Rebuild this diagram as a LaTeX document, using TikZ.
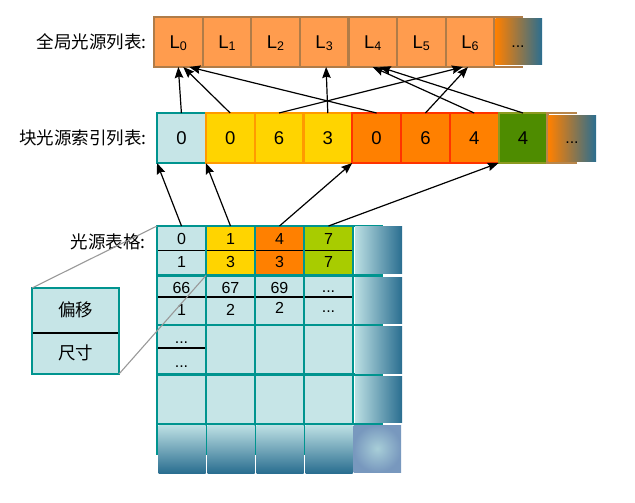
\documentclass[tikz,border=0pt]{standalone}
\usepackage{fontspec}
\setmainfont{Liberation Sans}
\newfontfamily\cjk{Noto Sans CJK SC}
\usetikzlibrary{arrows.meta}

\definecolor{cellcyan}{HTML}{C6E5E7}
\definecolor{gridteal}{HTML}{00948F}
\definecolor{lampyellow}{HTML}{FFD400}
\definecolor{lamporange}{HTML}{FF8000}
\definecolor{lamplime}{HTML}{A8CC00}
\definecolor{listfill}{HTML}{FF9C4E}
\definecolor{listedge}{HTML}{B07C48}
\definecolor{edgeorange}{HTML}{FF9A00}
\definecolor{edgered}{HTML}{FF3300}
\definecolor{leafgreen}{HTML}{4E8C00}
\definecolor{edgeolive}{HTML}{8C9A20}
\definecolor{deepblue}{HTML}{2A6E90}
\definecolor{paleblue}{HTML}{BCDFE3}
\definecolor{frametan}{HTML}{B8864A}
\definecolor{radialin}{HTML}{A8CED8}
\definecolor{radialout}{HTML}{7898BE}

\newcommand{\Lidx}[1]{L\raisebox{-2pt}{\fontsize{12.5}{12.5}\selectfont #1}}

\begin{document}
\begin{tikzpicture}[x=1pt,y=-1pt,
  cell/.style={draw, rectangle, inner sep=0pt, outer sep=0pt, line width=2.2pt,
    font=\fontsize{18.5}{18.5}\selectfont, text height=13.3pt, text depth=0pt},
  listcell/.style={cell, fill=listfill, draw=listedge, minimum width=48.6pt, minimum height=50pt},
  idxcell/.style={cell, minimum width=48.8pt, minimum height=50pt},
  gridcell/.style={cell, fill=cellcyan, draw=gridteal, line width=2.6pt, minimum width=49pt, minimum height=49.5pt},
  celltext/.style={inner sep=0pt, font=\fontsize{16}{16}\selectfont, text height=11.5pt, text depth=0pt},
  cjklabel/.style={inner sep=0pt, anchor=east, font=\cjk\fontsize{17.5}{17.5}\selectfont},
  cjktext/.style={inner sep=0pt, font=\cjk\fontsize{17.5}{17.5}\selectfont},
  link/.style={-{Stealth[length=11pt,width=8.5pt,inset=1.5pt]}, line width=1.2pt},
  zoomline/.style={black!40, line width=1.1pt},
  divider/.style={line width=1.2pt}]
\useasboundingbox (0,0) rectangle (635,503);

% labels
\node[cjklabel] (globallabel) at (147,42) {全局光源列表:};
\node[cjklabel] (blocklabel) at (147,138) {块光源索引列表:};
\node[cjklabel] (tablelabel) at (146,242) {光源表格:};

% global light list
\node[listcell] (L0) at (178.3,42) {\Lidx{0}};
\node[listcell] (L1) at (226.9,42) {\Lidx{1}};
\node[listcell] (L2) at (275.5,42) {\Lidx{2}};
\node[listcell] (L3) at (324.1,42) {\Lidx{3}};
\node[listcell] (L4) at (372.7,42) {\Lidx{4}};
\node[listcell] (L5) at (421.3,42) {\Lidx{5}};
\node[listcell] (L6) at (469.9,42) {\Lidx{6}};
\draw[listedge, line width=2.2pt] (523,17) -- (494.2,17) -- (494.2,67) -- (523,67);
\shade[left color=lamporange, right color=deepblue] (495.3,19) rectangle (542,65);
\node[celltext] (moretop) at (518,42) {...};

% block light index list
\node[idxcell, fill=cellcyan, draw=gridteal] (m0) at (181.4,138) {0};
\node[idxcell, fill=lampyellow, draw=edgeorange] (m1) at (230.2,138) {0};
\node[idxcell, fill=lampyellow, draw=edgeorange] (m2) at (279,138) {6};
\node[idxcell, fill=lampyellow, draw=edgeorange] (m3) at (327.8,138) {3};
\node[idxcell, fill=lamporange, draw=edgered] (m4) at (376.6,138) {0};
\node[idxcell, fill=lamporange, draw=edgered] (m5) at (425.4,138) {6};
\node[idxcell, fill=lamporange, draw=edgered] (m6) at (474.2,138) {4};
\node[idxcell, fill=leafgreen, draw=edgeolive] (m7) at (523,138) {4};
\draw[frametan, line width=2.2pt] (577,113) -- (547.4,113) -- (547.4,163) -- (577,163);
\shade[left color=lamporange, right color=deepblue] (548.5,115) rectangle (596,161);
\node[celltext] (moreidx) at (572,138) {...};

% light table grid
\node[gridcell] (g00) at (181.5,250.75) {};
\node[gridcell, fill=lampyellow] (g10) at (230.5,250.75) {};
\node[gridcell, fill=lamporange] (g20) at (279.5,250.75) {};
\node[gridcell, fill=lamplime] (g30) at (328.5,250.75) {};
\node[gridcell] (g01) at (181.5,300.25) {};
\node[gridcell] (g11) at (230.5,300.25) {};
\node[gridcell] (g21) at (279.5,300.25) {};
\node[gridcell] (g31) at (328.5,300.25) {};
\node[gridcell] (g02) at (181.5,349.75) {};
\node[gridcell] (g12) at (230.5,349.75) {};
\node[gridcell] (g22) at (279.5,349.75) {};
\node[gridcell] (g32) at (328.5,349.75) {};
\node[gridcell] (g03) at (181.5,399.25) {};
\node[gridcell] (g13) at (230.5,399.25) {};
\node[gridcell] (g23) at (279.5,399.25) {};
\node[gridcell] (g33) at (328.5,399.25) {};
\draw[gridteal, line width=2.6pt] (157,424) -- (157,455);
\draw[gridteal, line width=2.6pt] (206,424) -- (206,455);
\draw[gridteal, line width=2.6pt] (255,424) -- (255,455);
\draw[gridteal, line width=2.6pt] (304,424) -- (304,455);
\draw[gridteal, line width=2.6pt] (353,226) -- (383,226);
\draw[gridteal, line width=2.6pt] (353,275.5) -- (383,275.5);
\draw[gridteal, line width=2.6pt] (353,325) -- (383,325);
\draw[gridteal, line width=2.6pt] (353,374.5) -- (383,374.5);
\draw[gridteal, line width=2.6pt] (353,424) -- (383,424);
\shade[left color=paleblue, right color=deepblue] (355,226) rectangle (402,273);
\shade[left color=paleblue, right color=deepblue] (355,277) rectangle (402,323.5);
\shade[left color=paleblue, right color=deepblue] (355,326.5) rectangle (402,373);
\shade[left color=paleblue, right color=deepblue] (355,376) rectangle (402,422.5);
\shade[top color=paleblue, bottom color=deepblue] (158.5,425.5) rectangle (205.5,473);
\shade[top color=paleblue, bottom color=deepblue] (207.5,425.5) rectangle (254.5,473);
\shade[top color=paleblue, bottom color=deepblue] (256.5,425.5) rectangle (303.5,473);
\shade[top color=paleblue, bottom color=deepblue] (305.5,425.5) rectangle (352.5,473);
\shade[inner color=radialin, outer color=radialout] (353.5,425) rectangle (401,472);

% offset / size split lines
\draw[divider] ([xshift=1.3pt]g00.west) -- ([xshift=-1.3pt]g00.east);
\draw[divider] ([xshift=1.3pt]g10.west) -- ([xshift=-1.3pt]g10.east);
\draw[divider] ([xshift=1.3pt]g20.west) -- ([xshift=-1.3pt]g20.east);
\draw[divider] ([xshift=1.3pt]g30.west) -- ([xshift=-1.3pt]g30.east);
\draw[divider] ([xshift=1.3pt,yshift=3.25pt]g01.west) -- ([xshift=-1.3pt,yshift=3.25pt]g01.east);
\draw[divider] ([xshift=1.3pt,yshift=3.25pt]g11.west) -- ([xshift=-1.3pt,yshift=3.25pt]g11.east);
\draw[divider] ([xshift=1.3pt,yshift=3.25pt]g21.west) -- ([xshift=-1.3pt,yshift=3.25pt]g21.east);
\draw[divider] ([xshift=1.3pt,yshift=3.25pt]g31.west) -- ([xshift=-1.3pt,yshift=3.25pt]g31.east);
\draw[divider] ([xshift=1.3pt,yshift=1.75pt]g02.west) -- ([xshift=-1.3pt,yshift=1.75pt]g02.east);

% table entries
\node[celltext] (t00a) at (181.5,239) {0};
\node[celltext] (t00b) at (181.5,262) {1};
\node[celltext] (t10a) at (230.5,239) {1};
\node[celltext] (t10b) at (230.5,262) {3};
\node[celltext] (t20a) at (279.5,239) {4};
\node[celltext] (t20b) at (279.5,262) {3};
\node[celltext] (t30a) at (328.5,239) {7};
\node[celltext] (t30b) at (328.5,262) {7};
\node[celltext] (t01a) at (181.5,288) {66};
\node[celltext] (t01b) at (181.5,310) {1};
\node[celltext] (t11a) at (230.5,288) {67};
\node[celltext] (t11b) at (230.5,310) {2};
\node[celltext] (t21a) at (279.5,288) {69};
\node[celltext] (t21b) at (279.5,308) {2};
\node[celltext] (t31a) at (328.5,287) {...};
\node[celltext] (t31b) at (328.5,307) {...};
\node[celltext] (t02a) at (181.5,337.5) {...};
\node[celltext] (t02b) at (181.5,361.5) {...};

% legend box
\node[gridcell, minimum width=87pt, minimum height=86pt] (legendbox) at (75.5,331) {};
\draw[divider] ([xshift=1.3pt,yshift=-2pt]legendbox.west) -- ([xshift=-1.3pt,yshift=-2pt]legendbox.east);
\node[cjktext] (offsetlabel) at (75.5,310) {偏移};
\node[cjktext] (sizelabel) at (75.5,353) {尺寸};
\draw[zoomline] (legendbox.north west) -- (g00.north west);
\draw[zoomline] (legendbox.south east) -- (g00.south east);

% table -> index list
\draw[link] (g00.north) -- (m0.south west);
\draw[link] (g10.north) -- (m1.south west);
\draw[link] (g20.north) -- (m4.south west);
\draw[link] (g30.north) -- (m7.south west);

% index list -> global list
\draw[link] (m0.north) -- (L0.south);
\draw[link] (m1.north) -- ([xshift=5pt]L0.south);
\draw[link] (m4.north) -- ([xshift=11pt]L0.south);
\draw[link] (m2.north) -- ([xshift=-7pt]L6.south);
\draw[link] (m5.north) -- ([xshift=-2pt]L6.south);
\draw[link] (m3.north) -- ([xshift=2pt]L3.south);
\draw[link] (m6.north) -- (L4.south);
\draw[link] (m7.north) -- ([xshift=7pt]L4.south);
\end{tikzpicture}
\end{document}
